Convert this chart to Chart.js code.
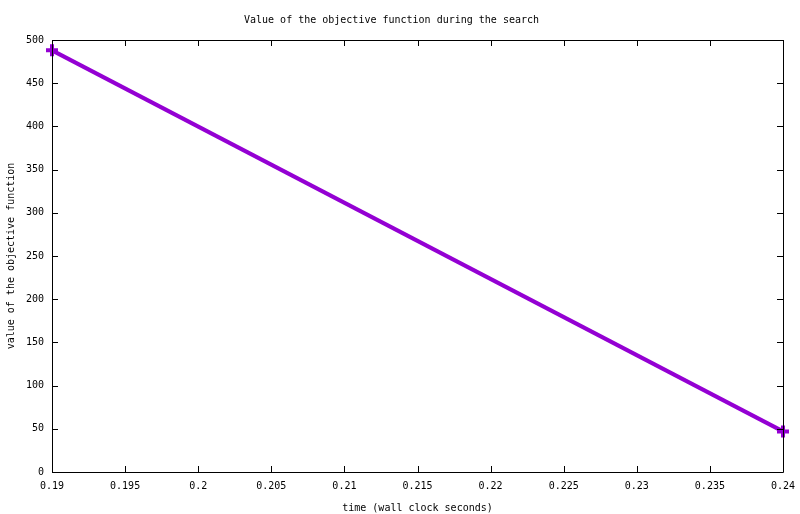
<!DOCTYPE html>
<html>
<head>
<meta charset="utf-8">
<script src="https://cdn.jsdelivr.net/npm/chart.js@4.4.0/dist/chart.umd.min.js"></script>
<style>
  html, body { margin: 0; padding: 0; background: #fff; }
  #wrap { width: 800px; height: 514px; }
</style>
</head>
<body>
<div id="wrap"><canvas id="objChart"></canvas></div>
<script>
// Values: time in seconds and the objective value.
const times = [0.19, 0.24];
const objValues = [488, 47];
const xTicks = [0.19, 0.195, 0.2, 0.205, 0.21, 0.215, 0.22, 0.225, 0.23, 0.235, 0.24];
const yTicks = [0, 50, 100, 150, 200, 250, 300, 350, 400, 450, 500];

const monoFont = { family: 'DejaVu Sans Mono', size: 10 };

// gnuplot style: full frame with tick marks pointing inward on all four sides
const framePlugin = {
    id: 'frame',
    afterDatasetsDraw(chart) {
        const { ctx, chartArea: a, scales } = chart;
        const len = 6;
        ctx.save();
        ctx.strokeStyle = '#000';
        ctx.lineWidth = 1;
        ctx.beginPath();
        ctx.rect(a.left + 0.5, a.top + 0.5, a.right - a.left, a.bottom - a.top);
        xTicks.forEach(v => {
            const px = Math.round(scales.x.getPixelForValue(v)) + 0.5;
            ctx.moveTo(px, a.bottom); ctx.lineTo(px, a.bottom - len);
            ctx.moveTo(px, a.top); ctx.lineTo(px, a.top + len);
        });
        yTicks.forEach(v => {
            const py = Math.round(scales.y.getPixelForValue(v)) + 0.5;
            ctx.moveTo(a.left, py); ctx.lineTo(a.left + len, py);
            ctx.moveTo(a.right, py); ctx.lineTo(a.right - len, py);
        });
        ctx.stroke();
        ctx.restore();
    }
};

const ctx = document.getElementById('objChart').getContext('2d');
new Chart(ctx, {
    type: 'line',
    data: {
        datasets: [{
            data: times.map((t, i) => ({ x: t, y: objValues[i] })),
            borderColor: '#9400d3',
            borderWidth: 4,
            pointStyle: 'cross',
            pointRadius: 6,
            pointBorderWidth: 4,
            pointBorderColor: '#9400d3',
            tension: 0,
            clip: false
        }]
    },
    options: {
        responsive: true,
        maintainAspectRatio: false,
        animation: false,
        layout: { padding: { top: 0, right: 17, bottom: 0, left: 0 } },
        scales: {
            x: {
                type: 'linear',
                min: 0.19,
                max: 0.24,
                afterBuildTicks(scale) { scale.ticks = xTicks.map(v => ({ value: v })); },
                afterFit(scale) {
                    scale.height = 42;
                    scale.paddingLeft = 0;
                    scale.paddingRight = 0;
                },
                grid: { display: false, drawTicks: false },
                border: { display: false },
                ticks: {
                    color: '#000',
                    font: monoFont,
                    padding: 8,
                    maxRotation: 0,
                    autoSkip: false,
                    callback: v => String(+v.toFixed(3))
                },
                title: {
                    display: true,
                    text: 'time (wall clock seconds)',
                    color: '#000',
                    font: monoFont,
                    padding: { top: 2, bottom: 0 }
                }
            },
            y: {
                min: 0,
                max: 500,
                afterBuildTicks(scale) { scale.ticks = yTicks.map(v => ({ value: v })); },
                afterFit(scale) { scale.width = 52; },
                grid: { display: false, drawTicks: false },
                border: { display: false },
                ticks: {
                    color: '#000',
                    font: monoFont,
                    padding: 8
                },
                title: {
                    display: true,
                    text: 'value of the objective function',
                    color: '#000',
                    font: monoFont,
                    padding: { top: 5, bottom: 0 }
                }
            }
        },
        plugins: {
            legend: { display: false },
            tooltip: { enabled: false },
            title: {
                display: true,
                text: 'Value of the objective function during the search',
                color: '#000',
                font: { family: 'DejaVu Sans Mono', size: 10, weight: 'normal' },
                padding: { top: 14, bottom: 14 }
            }
        }
    },
    plugins: [framePlugin]
});
</script>
</body>
</html>
